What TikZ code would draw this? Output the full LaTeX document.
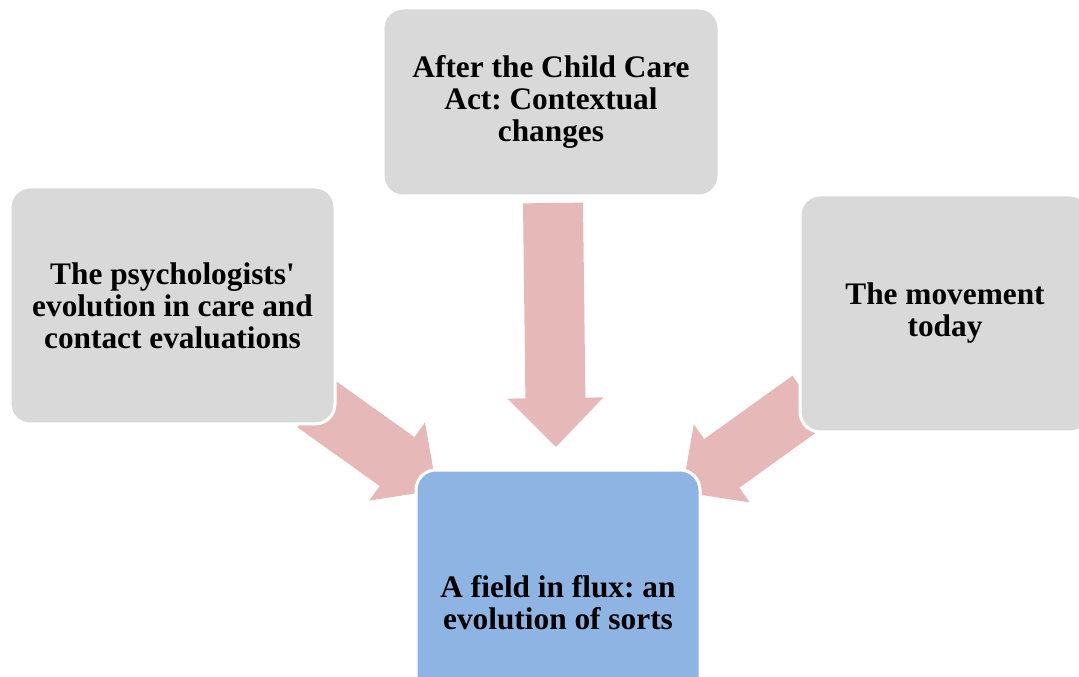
\documentclass[tikz,border=0pt]{standalone}
\usepackage{fontspec}
\setmainfont{Liberation Serif}
\usepackage{tikz}
\usetikzlibrary{positioning}
\usetikzlibrary{calc}
\pgfdeclarelayer{background}
\pgfsetlayers{background,main}
\definecolor{boxgrey}{HTML}{D9D9D9}
\definecolor{boxblue}{HTML}{8EB4E3}
\definecolor{arrowpink}{HTML}{E6B9B8}
\frenchspacing
% block arrow from a tail coordinate to a tip coordinate
\newcommand{\blockarrow}[2]{%
	\coordinate (#1-base) at ($(#2)!36.75pt!(#1)$);
	\fill[arrowpink] ($(#1)!22.5pt!90:(#2)$) -- ($(#1-base)!22.5pt!90:(#2)$) -- ($(#1-base)!36pt!90:(#2)$) -- (#2)
		-- ($(#1-base)!36pt!-90:(#2)$) -- ($(#1-base)!22.5pt!-90:(#2)$) -- ($(#1)!22.5pt!-90:(#2)$) -- cycle;
}

\begin{document}
\begin{tikzpicture}
		[
			x = 0.75pt, y = -0.75pt,
			stage/.style = {rectangle, rounded corners = 15pt, draw = white, line width = 2.25pt, inner sep = 0pt, align = center, font = \fontsize{23.5}{24}\selectfont\bfseries},
			greybox/.style = {stage, fill = boxgrey},
			bluebox/.style = {stage, fill = boxblue},
		]
			\path[use as bounding box, clip] (0,0) rectangle (1079,677);
			%
			\node (act) [greybox, minimum width = 252pt, minimum height = 141pt] at (551,102) {After the Child Care\\Act: Contextual\\changes};
			\node (psych) [greybox, minimum width = 243.75pt, minimum height = 177.75pt] at (172.5,305.5) {The psychologists\textquotesingle\\evolution in care and\\contact evaluations};
			\node (today) [greybox, minimum width = 217.5pt, minimum height = 177.75pt] at (945,313.5) {The movement\\today};
			\node (field) [bluebox, minimum width = 213pt, minimum height = 199.5pt] at (558,603) {A field in flux: an\\evolution of sorts};
			%
			\coordinate (acttail) at (553,203);
			\coordinate (acttip) at (556,447);
			\coordinate (psychtail) at (315,403);
			\coordinate (psychtip) at (437,490);
			\coordinate (todaytail) at (810,400);
			\coordinate (todaytip) at (682,492);
			%
			\begin{pgfonlayer}{background}
				\blockarrow{acttail}{acttip}
				\blockarrow{psychtail}{psychtip}
				\blockarrow{todaytail}{todaytip}
			\end{pgfonlayer}
			%
		\end{tikzpicture}
\end{document}
